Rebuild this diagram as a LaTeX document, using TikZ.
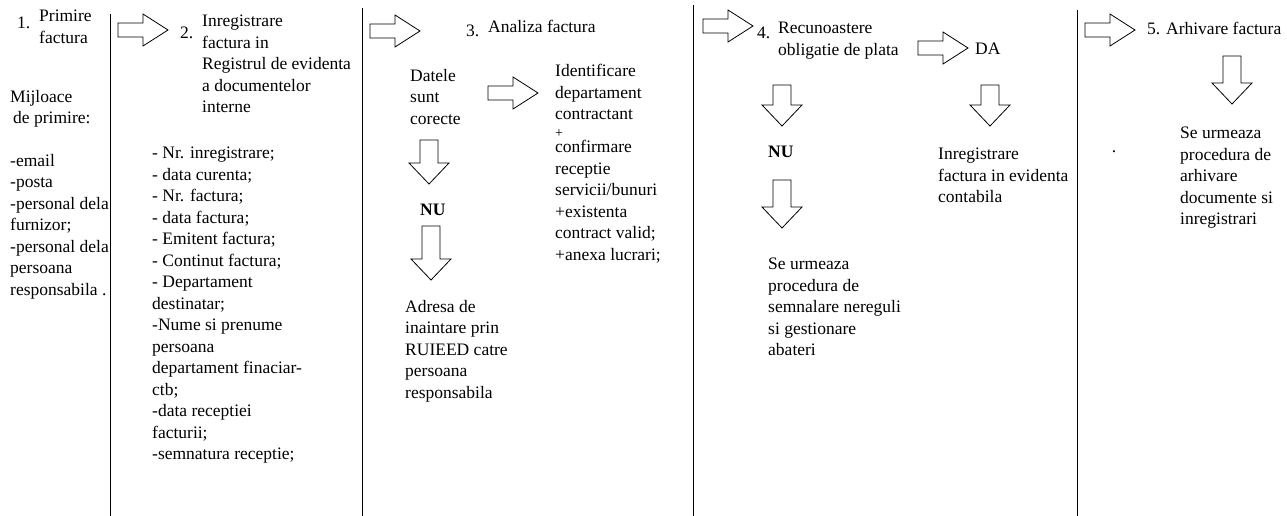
\documentclass[tikz,border=0pt]{standalone}
\usepackage{fontspec}
\setmainfont{Liberation Serif}
\usetikzlibrary{positioning}
\tikzset{txt/.style = {anchor=north west, inner sep=0pt, align=left,
    font=\fontsize{17.5}{21.5}\selectfont}}
\tikzset{blk/.style = {draw, line width=0.8pt, fill=white}}
\tikzset{rtarrow/.pic = {\draw[blk] (0,-7) -- (25,-7) -- (25,-16) -- (50,0)
    -- (25,16) -- (25,7) -- (0,7) -- cycle;}}
\tikzset{dnarrow/.pic = {\draw[blk] (-9,0) -- (-9,#1) -- (-20,#1) -- (0,#1+21)
    -- (20,#1) -- (9,#1) -- (9,0) -- cycle;}}

\begin{document}
\begin{tikzpicture}[x=1pt, y=-1pt]
  \useasboundingbox (0,0) rectangle (1287,516);
  % column rules
  \draw[line width=1pt] (110,14) -- (110,516);
  \draw[line width=1pt] (362,8) -- (362,516);
  \draw[line width=1pt] (693,5) -- (693,516);
  \draw[line width=1pt] (1077,10) -- (1077,516);

  % 1. Primire
  \node [txt] (n1) at (17,17) {1.};
  \node [txt] (prim) at (39,10) {Primire\\factura};
  \node [txt] (mijl) at (10,90) {Mijloace\\\hspace{3pt}de primire:};
  \node [txt] (canale) at (10,154) {-email\\-posta\\-personal dela\\furnizor;\\-personal dela\\persoana\\responsabila .};

  % 2. Inregistrare
  \pic at (118,30) {rtarrow};
  \node [txt] (n2) at (180,27) {2.};
  \node [txt] (inreg) at (202,15) {Inregistrare\\factura in\\Registrul de evidenta\\a documentelor\\interne};
  \node [txt] (campuri) at (152,147) {- Nr. inregistrare;\\- data curenta;\\- Nr. factura;\\- data factura;\\- Emitent factura;\\- Continut factura;\\- Departament\\destinatar;\\-Nume si prenume\\persoana\\departament finaciar-\\ctb;\\-data receptiei\\facturii;\\-semnatura receptie;};

  % 3. Analiza
  \pic at (370,31) {rtarrow};
  \node [txt] (n3) at (466,25) {3.};
  \node [txt] (anal) at (488,20) {Analiza factura};
  \node [txt] (date) at (410,69) {Datele\\sunt\\corecte};
  \pic at (488,93) {rtarrow};
  \node [txt] (ident) at (555,64) {Identificare\\departament\\contractant};
  \node [anchor=west, inner sep=0pt, font=\fontsize{14}{16}\selectfont] (plus) at (555,134) {+};
  \node [txt] (conf) at (555,140) {confirmare\\receptie\\servicii/bunuri\\+existenta\\contract valid;\\+anexa lucrari;};
  \pic at (429,140) {dnarrow=23};
  \node [txt, anchor=west, font=\fontsize{17.5}{21.5}\selectfont\bfseries] (nu3) at (420,210) {NU};
  \pic at (431,226) {dnarrow=33};
  \node [txt] (adresa) at (405,300) {Adresa de\\inaintare prin\\RUIEED catre\\persoana\\responsabila};

  % 4. Recunoastere
  \pic at (703,26) {rtarrow};
  \node [txt] (n4) at (757,27) {4.};
  \node [txt] (recun) at (778,22) {Recunoastere\\obligatie de plata};
  \pic at (918,48) {rtarrow};
  \node [txt, anchor=west] (da) at (975,49) {DA};
  \pic at (782,85) {dnarrow=20};
  \node [txt, anchor=west, font=\fontsize{17.5}{21.5}\selectfont\bfseries] (nu4) at (768,152) {NU};
  \pic at (782,180) {dnarrow=27};
  \node [txt] (semnal) at (768,258) {Se urmeaza\\procedura de\\semnalare nereguli\\si gestionare\\abateri};
  \pic at (990,85) {dnarrow=20};
  \node [txt] (contab) at (938,148) {Inregistrare\\factura in evidenta\\contabila};

  % 5. Arhivare
  \pic at (1085,30) {rtarrow};
  \node [txt] (arh) at (1147,22) {5. Arhivare factura};
  \pic at (1232,56) {dnarrow=27};
  \node [txt, anchor=center] (dot) at (1114,152) {.};
  \node [txt] (proc) at (1180,127) {Se urmeaza\\procedura de\\arhivare\\documente si\\inregistrari};
\end{tikzpicture}
\end{document}
